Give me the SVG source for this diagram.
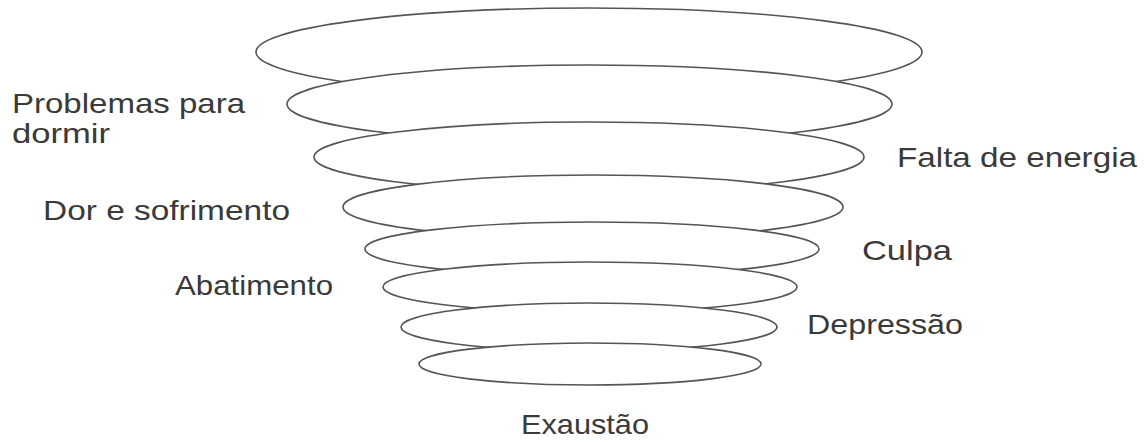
<svg xmlns="http://www.w3.org/2000/svg" width="1144" height="442" viewBox="0 0 1144 442">
  <style>
    .ring { fill: #ffffff; stroke: #555555; stroke-width: 1.6; }
    .lbl { font-family: "Liberation Sans", "DejaVu Sans", sans-serif; font-size: 28px; fill: #3a3a3a; }
  </style>
  <rect x="0" y="0" width="1144" height="442" fill="#ffffff"/>
  <g id="spiral">
    <ellipse id="ring1" class="ring" cx="589" cy="52" rx="333" ry="44"/>
    <ellipse id="ring2" class="ring" cx="589.5" cy="104" rx="302.5" ry="39"/>
    <ellipse id="ring3" class="ring" cx="589" cy="157" rx="275" ry="35"/>
    <ellipse id="ring4" class="ring" cx="593" cy="207" rx="250" ry="32"/>
    <ellipse id="ring5" class="ring" cx="592" cy="249" rx="227" ry="27"/>
    <ellipse id="ring6" class="ring" cx="590" cy="287" rx="207" ry="25"/>
    <ellipse id="ring7" class="ring" cx="589" cy="327" rx="188" ry="24"/>
    <ellipse id="ring8" class="ring" cx="590" cy="364" rx="171" ry="21"/>
  </g>
  <g id="labels">
    <g id="label-problemas">
      <text class="lbl" x="12" y="113" textLength="233" lengthAdjust="spacingAndGlyphs">Problemas para</text>
      <text class="lbl" x="12" y="143" textLength="98" lengthAdjust="spacingAndGlyphs">dormir</text>
    </g>
    <g id="label-dor"><text class="lbl" x="43" y="220" textLength="247" lengthAdjust="spacingAndGlyphs">Dor e sofrimento</text></g>
    <g id="label-abatimento"><text class="lbl" x="175" y="295" textLength="158" lengthAdjust="spacingAndGlyphs">Abatimento</text></g>
    <g id="label-falta"><text class="lbl" x="897" y="167" textLength="240" lengthAdjust="spacingAndGlyphs">Falta de energia</text></g>
    <g id="label-culpa"><text class="lbl" x="862" y="260" textLength="90" lengthAdjust="spacingAndGlyphs">Culpa</text></g>
    <g id="label-depressao"><text class="lbl" x="807" y="334" textLength="156" lengthAdjust="spacingAndGlyphs">Depressão</text></g>
    <g id="label-exaustao"><text class="lbl" x="521" y="434" textLength="128" lengthAdjust="spacingAndGlyphs">Exaustão</text></g>
  </g>
</svg>
